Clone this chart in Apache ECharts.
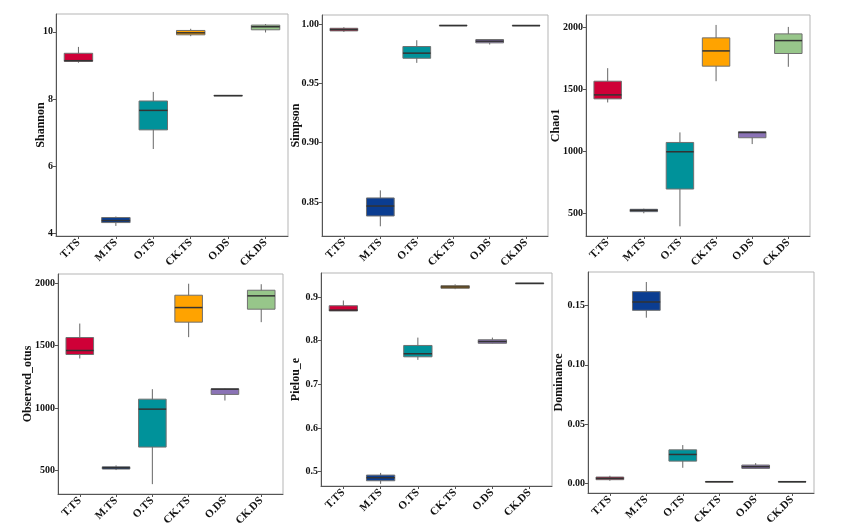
<!DOCTYPE html>
<html>
<head>
<meta charset="utf-8">
<script src="https://cdn.jsdelivr.net/npm/echarts@6/dist/echarts.min.js"></script>
<style>
html,body{margin:0;padding:0;background:#fff;}
#c{width:862px;height:532px;}
</style>
</head>
<body>
<div id="c"></div>
<script>
// ---------------- DATA ----------------
const categories = ['T.TS', 'M.TS', 'O.TS', 'CK.TS', 'O.DS', 'CK.DS'];
const boxColors = ['#CF0037', '#0B3D91', '#00929A', '#FFA300', '#8B73B6', '#97C68A'];

// each entry: [min, Q1, median, Q3, max]
const shannon = [
  [9.08, 9.12, 9.14, 9.36, 9.55],
  [4.22, 4.32, 4.38, 4.47, 4.50],
  [6.51, 7.08, 7.66, 7.94, 8.21],
  [9.87, 9.91, 9.97, 10.04, 10.09],
  [8.09, 8.095, 8.10, 8.105, 8.11],
  [9.98, 10.06, 10.15, 10.20, 10.23]
];
const simpson = [
  [0.9935, 0.9944, 0.9955, 0.9966, 0.9975],
  [0.8295, 0.8382, 0.8466, 0.8534, 0.8598],
  [0.9674, 0.9713, 0.9756, 0.9812, 0.9865],
  [0.9985, 0.9987, 0.9989, 0.9991, 0.9992],
  [0.9829, 0.9843, 0.9857, 0.9871, 0.9872],
  [0.9986, 0.9988, 0.9989, 0.9990, 0.9993]
];
const chao1 = [
  [1392, 1421, 1453, 1563, 1668],
  [500, 513, 524, 532, 537],
  [395, 695, 995, 1070, 1151],
  [1563, 1684, 1807, 1912, 2016],
  [1057, 1108, 1150, 1156, 1160],
  [1679, 1786, 1890, 1944, 2000]
];
const observedOtus = [
  [1397, 1429, 1461, 1565, 1677],
  [503, 511, 521, 529, 540],
  [390, 687, 991, 1071, 1151],
  [1568, 1688, 1805, 1904, 1996],
  [1060, 1109, 1151, 1154, 1156],
  [1688, 1792, 1899, 1944, 1992]
];
const pielouE = [
  [0.868, 0.868, 0.870, 0.880, 0.892],
  [0.472, 0.479, 0.486, 0.492, 0.497],
  [0.756, 0.763, 0.770, 0.789, 0.807],
  [0.918, 0.920, 0.923, 0.926, 0.929],
  [0.794, 0.794, 0.798, 0.802, 0.807],
  [0.931, 0.931, 0.931, 0.932, 0.932]
];
const dominance = [
  [0.0025, 0.0034, 0.0045, 0.0056, 0.0067],
  [0.1396, 0.1458, 0.1528, 0.1615, 0.1696],
  [0.0134, 0.0190, 0.0246, 0.0285, 0.0325],
  [0.0015, 0.0016, 0.0017, 0.0018, 0.0019],
  [0.0129, 0.0129, 0.0143, 0.0157, 0.0173],
  [0.0015, 0.0016, 0.0017, 0.0018, 0.0019]
];

// tick labels
const shannonTicks = [4, 6, 8, 10];
const simpsonTicks = [0.85, 0.90, 0.95, 1.00];
const chao1Ticks = [500, 1000, 1500, 2000];
const observedTicks = [500, 1000, 1500, 2000];
const pielouTicks = [0.5, 0.6, 0.7, 0.8, 0.9];
const dominanceTicks = [0.00, 0.05, 0.10, 0.15];

const metricNames = ['Shannon', 'Simpson', 'Chao1', 'Observed_otus', 'Pielou_e', 'Dominance'];

// ---------------- LAYOUT ----------------
const panels = [
  {name: metricNames[0], data: shannon, ticks: shannonTicks, dec: 0, range: [3.92, 10.53], frame: [56, 14, 232, 222], gap: 9},
  {name: metricNames[1], data: simpson, ticks: simpsonTicks, dec: 2, range: [0.8213, 1.0078], frame: [322, 15, 226, 221], gap: 20},
  {name: metricNames[2], data: chao1, ticks: chao1Ticks, dec: 0, range: [317, 2096], frame: [586, 15, 224, 221], gap: 24},
  {name: metricNames[3], data: observedOtus, ticks: observedTicks, dec: 0, range: [311, 2074], frame: [58, 274, 225, 220], gap: 24},
  {name: metricNames[4], data: pielouE, ticks: pielouTicks, dec: 1, range: [0.467, 0.955], frame: [321, 273, 231, 213], gap: 19},
  {name: metricNames[5], data: dominance, ticks: dominanceTicks, dec: 2, range: [-0.0078, 0.178], frame: [588, 272, 226, 221], gap: 23}
];

const FONT = '"Liberation Serif", "Times New Roman", serif';
const AXIS_DARK = '#555';

const grids = [], xAxes = [], yAxes = [], series = [];
panels.forEach((p, i) => {
  const [l, t, w, h] = p.frame;
  const inset = w * 0.1 / 6.2;
  grids.push({left: l, top: t, width: w, height: h, show: true, borderColor: '#b5b5b5', borderWidth: 1, backgroundColor: 'transparent'});
  grids.push({left: l + inset, top: t, width: w - 2 * inset, height: h});
  // frame axes
  xAxes.push({gridIndex: 2 * i, type: 'value', min: 0, max: 1,
    axisLine: {show: true, onZero: false, lineStyle: {color: AXIS_DARK, width: 1}},
    axisTick: {show: false}, axisLabel: {show: false}, splitLine: {show: false}});
  yAxes.push({gridIndex: 2 * i, type: 'value', min: p.range[0], max: p.range[1],
    name: p.name, nameLocation: 'middle', nameGap: p.gap, nameMoveOverlap: false,
    nameTextStyle: {fontFamily: FONT, fontWeight: 'bold', fontSize: 12, color: '#111'},
    axisLine: {show: true, onZero: false, lineStyle: {color: AXIS_DARK, width: 1}},
    axisTick: {show: true, length: 3, customValues: p.ticks, lineStyle: {color: AXIS_DARK}},
    axisLabel: {customValues: p.ticks, margin: 3, fontFamily: FONT, fontWeight: 'bold', fontSize: 10, color: '#111',
      formatter: v => Number(v).toFixed(p.dec)},
    splitLine: {show: false}});
  // data axes
  xAxes.push({gridIndex: 2 * i + 1, type: 'category', data: categories,
    axisLine: {show: false, onZero: false},
    axisTick: {show: true, alignWithLabel: true, length: 3, lineStyle: {color: AXIS_DARK}},
    axisLabel: {interval: 0, rotate: 45, margin: 5, fontFamily: FONT, fontWeight: 'bold', fontSize: 11, color: '#111'},
    splitLine: {show: false}});
  yAxes.push({gridIndex: 2 * i + 1, type: 'value', min: p.range[0], max: p.range[1], show: false});

  series.push({
    type: 'custom',
    xAxisIndex: 2 * i + 1,
    yAxisIndex: 2 * i + 1,
    data: p.data.map((d, k) => [k].concat(d)),
    renderItem: function (params, api) {
      const k = api.value(0);
      const band = api.size([1, 0])[0];
      const half = band * 0.38;
      const pMin = api.coord([k, api.value(1)]);
      const pQ1 = api.coord([k, api.value(2)]);
      const pMed = api.coord([k, api.value(3)]);
      const pQ3 = api.coord([k, api.value(4)]);
      const pMax = api.coord([k, api.value(5)]);
      const cx = pMed[0];
      return {
        type: 'group',
        children: [
          {type: 'line', shape: {x1: cx, y1: pMin[1], x2: cx, y2: pMax[1]}, style: {stroke: '#666', lineWidth: 1}},
          {type: 'rect', shape: {x: cx - half, y: pQ3[1], width: 2 * half, height: Math.max(pQ1[1] - pQ3[1], 0.5)},
            style: {fill: boxColors[k], stroke: '#707070', lineWidth: 1}},
          {type: 'line', shape: {x1: cx - half, y1: pMed[1], x2: cx + half, y2: pMed[1]}, style: {stroke: '#333', lineWidth: 1.5}}
        ]
      };
    }
  });
});

const chart = echarts.init(document.getElementById('c'), null, {renderer: 'canvas'});
chart.setOption({
  backgroundColor: '#ffffff',
  animation: false,
  grid: grids,
  xAxis: xAxes,
  yAxis: yAxes,
  series: series
});
</script>
</body>
</html>
